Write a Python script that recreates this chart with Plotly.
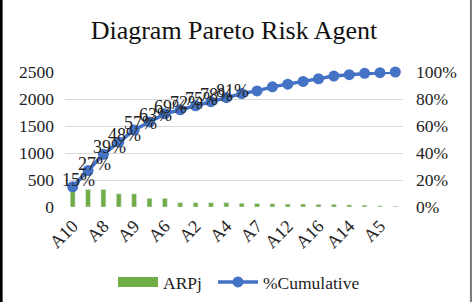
import plotly.graph_objects as go

categories = ["A10", "A1", "A8", "A3", "A9", "A11", "A6", "A13", "A2", "A15",
              "A4", "A17", "A7", "A18", "A12", "A19", "A16", "A20", "A14", "A21",
              "A5", "A22"]
arpj = [405, 325, 325, 245, 245, 160, 160, 80, 80, 80, 80, 70, 65, 60, 55, 55,
        50, 50, 40, 35, 20, 15]
cumulative = [15, 27, 39, 48, 57, 63, 69, 72, 75, 78, 81, 84, 86, 89, 91, 93,
              95, 97, 98, 99, 99.5, 100]
label_count = 11
shown_ticks = categories[::2]
left_ticks = [0, 500, 1000, 1500, 2000, 2500]
right_ticks = [0, 20, 40, 60, 80, 100]

FONT = "Liberation Serif"
GREEN = "#70AD47"
BLUE = "#4472C4"

fig = go.Figure()
fig.add_trace(go.Bar(x=categories, y=arpj, name="ARPj", marker_color=GREEN,
                     width=0.32, yaxis="y", showlegend=False))
# legend entry with wide bar-like swatch
fig.add_trace(go.Scatter(x=[None], y=[None], name="ARPj", mode="lines",
                         line=dict(color=GREEN, width=11), yaxis="y", legend="legend"))
fig.add_trace(go.Scatter(x=categories, y=cumulative, name="%Cumulative", yaxis="y2",
                         mode="lines+markers",
                         line=dict(color=BLUE, width=3.5),
                         marker=dict(color=BLUE, size=11),
                         cliponaxis=False, legend="legend2"))

for cat, val in list(zip(categories, cumulative))[:label_count]:
    fig.add_annotation(x=cat, y=val, xref="x", yref="y2", text=f"{val:.0f}%",
                       showarrow=False, xshift=6, yshift=7,
                       font=dict(family=FONT, size=18, color="#222"))

tf = dict(family=FONT, size=17.5, color="#222")
leg_common = dict(orientation="h", yref="container", y=1 - 282 / 302, yanchor="middle",
                  xref="container", xanchor="left", font=tf, itemwidth=40,
                  bgcolor="rgba(0,0,0,0)", borderwidth=0)
fig.update_layout(
    width=473, height=302,
    margin=dict(l=65, r=70, t=72, b=95, autoexpand=False),
    paper_bgcolor="white", plot_bgcolor="white",
    font=dict(family=FONT, size=17.5, color="#222"),
    title=dict(text="Diagram Pareto Risk Agent", x=0.5, xref="paper", xanchor="center",
               y=0.9, yanchor="middle", font=dict(family=FONT, size=26, color="#111")),
    showlegend=True,
    legend=dict(x=113 / 473, **leg_common),
    legend2=dict(x=213 / 473, **leg_common),
    xaxis=dict(type="category", tickvals=shown_ticks, ticktext=shown_ticks,
               tickangle=-45, showgrid=False, showline=False, ticks="",
               ticklabelstandoff=4, automargin=False,
               range=[-0.5, len(categories) - 0.5],
               tickfont=dict(family=FONT, size=18, color="#222")),
    yaxis=dict(range=[0, 2500], tickvals=left_ticks, showgrid=True,
               gridcolor="#D9D9D9", gridwidth=1, zeroline=False, ticks="",
               ticklabelstandoff=10, automargin=False, tickfont=tf),
    yaxis2=dict(range=[0, 100], tickvals=right_ticks,
                ticktext=[f"{v}%" for v in right_ticks], overlaying="y", side="right",
                showgrid=False, zeroline=False, ticks="", ticklabelstandoff=12,
                automargin=False, tickfont=tf),
)

fig.add_shape(type="line", xref="paper", yref="paper", x0=-0.189, x1=-0.189,
              y0=-1.0, y1=1.6, line=dict(color="black", width=3))
fig.add_shape(type="line", xref="paper", yref="paper", x0=1.201, x1=1.201,
              y0=-1.0, y1=1.6, line=dict(color="#777", width=2))

fig.write_html("out.html")
